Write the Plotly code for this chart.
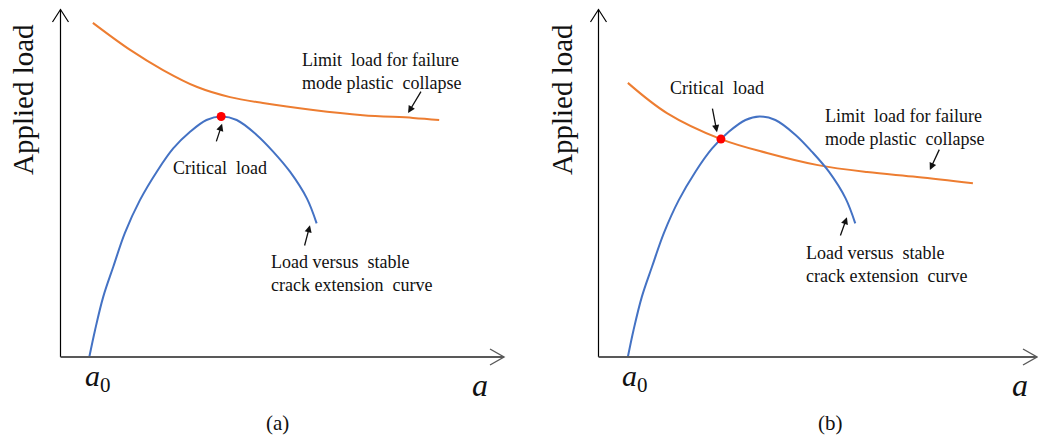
import plotly.graph_objects as go

W, H = 1038, 439

# ---- panel (a): critical load at the maximum of the R-curve ----
a_blue_x = [0.66, 0.79, 0.975, 1.20, 1.46, 1.80, 2.18, 2.55, 2.93, 3.30, 3.63, 3.98, 4.43, 4.80, 5.18, 5.56, 5.78]
a_blue_y = [0.00, 0.78, 1.74, 2.60, 3.57, 4.52, 5.34, 6.01, 6.49, 6.83, 6.93, 6.83, 6.40, 5.92, 5.34, 4.57, 3.85]
a_orange_x = [0.74, 1.58, 2.32, 3.09, 3.83, 4.57, 5.70, 6.82, 7.95, 8.54]
a_orange_y = [9.63, 8.85, 8.27, 7.78, 7.49, 7.32, 7.12, 6.97, 6.89, 6.83]
a_critical = (3.63, 6.93)

# ---- panel (b): critical load where the R-curve meets the limit load ----
b_blue_x = [0.68, 0.81, 1.00, 1.23, 1.50, 1.84, 2.22, 2.60, 2.98, 3.36, 3.68, 4.04, 4.50, 4.87, 5.26, 5.64, 5.86]
b_blue_y = [0.00, 0.78, 1.74, 2.60, 3.57, 4.52, 5.34, 6.01, 6.49, 6.83, 6.93, 6.83, 6.40, 5.92, 5.34, 4.57, 3.85]
b_orange_x = [0.68, 1.57, 2.80, 3.85, 5.01, 6.13, 7.27, 8.54]
b_orange_y = [7.90, 7.03, 6.28, 5.88, 5.53, 5.33, 5.19, 5.01]
b_critical = (2.80, 6.28)

a0 = 0.67

lbl_limit = "Limit  load for failure<br>mode plastic  collapse"
lbl_curve = "Load versus  stable<br>crack extension  curve"
lbl_crit = "Critical  load"

BLUE = "#4472C4"
ORANGE = "#ED7D31"
TXT = "#111111"
SERIF = "Liberation Serif"


def px(xp):
    return xp / W


def py(yp):
    return 1 - yp / H


fig = go.Figure()

panels = [
    dict(xa="x", ya="y", bx=a_blue_x, by=a_blue_y, ox=a_orange_x, oy=a_orange_y, crit=a_critical,
         origin=(60.5, 357), xtip=504,
         crit_text=(3.60, 5.45), crit_arrow=((3.51, 6.17), (3.65, 6.72)),
         lim_text=(5.41, 8.24), lim_arrow=((8.15, 7.69), (7.84, 7.03)),
         cur_text=(4.71, 2.41), cur_arrow=((5.50, 3.17), (5.63, 3.80))),
    dict(xa="x2", ya="y2", bx=b_blue_x, by=b_blue_y, ox=b_orange_x, oy=b_orange_y, crit=b_critical,
         origin=(598.5, 357), xtip=1037,
         crit_text=(2.71, 7.75), crit_arrow=((2.60, 7.20), (2.71, 6.48)),
         lim_text=(5.13, 6.60), lim_arrow=((7.79, 6.02), (7.56, 5.39)),
         cur_text=(4.69, 2.68), cur_arrow=((5.51, 3.46), (5.67, 4.03))),
]

annotations = []
shapes = []

for p in panels:
    xa, ya = p["xa"], p["ya"]
    fig.add_trace(go.Scatter(x=p["ox"], y=p["oy"], mode="lines", xaxis=xa, yaxis=ya,
                             line=dict(color=ORANGE, width=2, shape="spline"), showlegend=False))
    fig.add_trace(go.Scatter(x=p["bx"], y=p["by"], mode="lines", xaxis=xa, yaxis=ya,
                             line=dict(color=BLUE, width=2, shape="spline"), showlegend=False))
    fig.add_trace(go.Scatter(x=[p["crit"][0]], y=[p["crit"][1]], mode="markers", xaxis=xa, yaxis=ya,
                             marker=dict(color="#FF0000", size=9), showlegend=False))

    # axes drawn as arrows with open heads (paper coordinates)
    ox, oy = p["origin"]
    xt = p["xtip"]
    yt = 9.5
    shapes.append(dict(type="line", xref="paper", yref="paper",
                       x0=px(ox), y0=py(oy), x1=px(ox), y1=py(yt),
                       line=dict(color="#000000", width=1.2)))
    shapes.append(dict(type="line", xref="paper", yref="paper",
                       x0=px(ox), y0=py(oy), x1=px(xt), y1=py(oy),
                       line=dict(color="#595959", width=1.8)))
    shapes.append(dict(type="path", xref="paper", yref="paper",
                       path=f"M {px(ox-8)},{py(yt+12.5)} L {px(ox)},{py(yt)} L {px(ox+8)},{py(yt+12.5)}",
                       line=dict(color="#000000", width=1.2)))
    shapes.append(dict(type="path", xref="paper", yref="paper",
                       path=f"M {px(xt-14)},{py(oy-8)} L {px(xt)},{py(oy)} L {px(xt-14)},{py(oy+8)}",
                       line=dict(color="#595959", width=1.4)))

    # pointer arrows
    for tail, head in (p["crit_arrow"], p["lim_arrow"], p["cur_arrow"]):
        annotations.append(dict(xref=xa, yref=ya, axref=xa, ayref=ya,
                                x=head[0], y=head[1], ax=tail[0], ay=tail[1],
                                text="", showarrow=True, arrowhead=2, arrowsize=1.1,
                                arrowwidth=1.3, arrowcolor="#111111", standoff=0))

    # labels
    annotations.append(dict(xref=xa, yref=ya, x=p["crit_text"][0], y=p["crit_text"][1],
                            text=lbl_crit, showarrow=False, xanchor="center", yanchor="middle",
                            font=dict(family=SERIF, size=18, color=TXT)))
    annotations.append(dict(xref=xa, yref=ya, x=p["lim_text"][0], y=p["lim_text"][1],
                            text=lbl_limit, showarrow=False, xanchor="left", yanchor="middle",
                            align="left", font=dict(family=SERIF, size=18, color=TXT)))
    annotations.append(dict(xref=xa, yref=ya, x=p["cur_text"][0], y=p["cur_text"][1],
                            text=lbl_curve, showarrow=False, xanchor="left", yanchor="middle",
                            align="left", font=dict(family=SERIF, size=18, color=TXT)))
    annotations.append(dict(xref=xa, yref=ya, x=a0, y=0, xshift=8, yshift=-21,
                            text="<i>a</i><sub>0</sub>", showarrow=False,
                            xanchor="center", yanchor="middle",
                            font=dict(family=SERIF, size=30, color=TXT)))

for cx, cy, t, size, ang, it in [
    (23, 100, "Applied load", 29, -90, False),
    (562, 100, "Applied load", 29, -90, False),
    (480, 385, "a", 32, 0, True),
    (1020, 385, "a", 32, 0, True),
    (277, 423, "(a)", 21, 0, False),
    (830, 423, "(b)", 21, 0, False),
]:
    annotations.append(dict(xref="paper", yref="paper", x=px(cx), y=py(cy),
                            text=f"<i>{t}</i>" if it else t, showarrow=False,
                            textangle=ang, xanchor="center", yanchor="middle",
                            font=dict(family=SERIF, size=size, color=TXT)))

ydom = [py(357), py(10)]
axis_common = dict(visible=False, fixedrange=True)
fig.update_layout(
    width=W, height=H, autosize=False,
    margin=dict(l=0, r=0, t=0, b=0),
    paper_bgcolor="white", plot_bgcolor="white",
    xaxis=dict(domain=[60 / W, 504 / W], range=[0, 10], **axis_common),
    yaxis=dict(domain=ydom, range=[0, 10], **axis_common),
    xaxis2=dict(domain=[598 / W, 1037 / W], range=[0, 10], anchor="y2", **axis_common),
    yaxis2=dict(domain=ydom, range=[0, 10], anchor="x2", **axis_common),
    shapes=shapes,
    annotations=annotations,
    showlegend=False,
)

fig.write_html("out.html", config={"displayModeBar": False})
